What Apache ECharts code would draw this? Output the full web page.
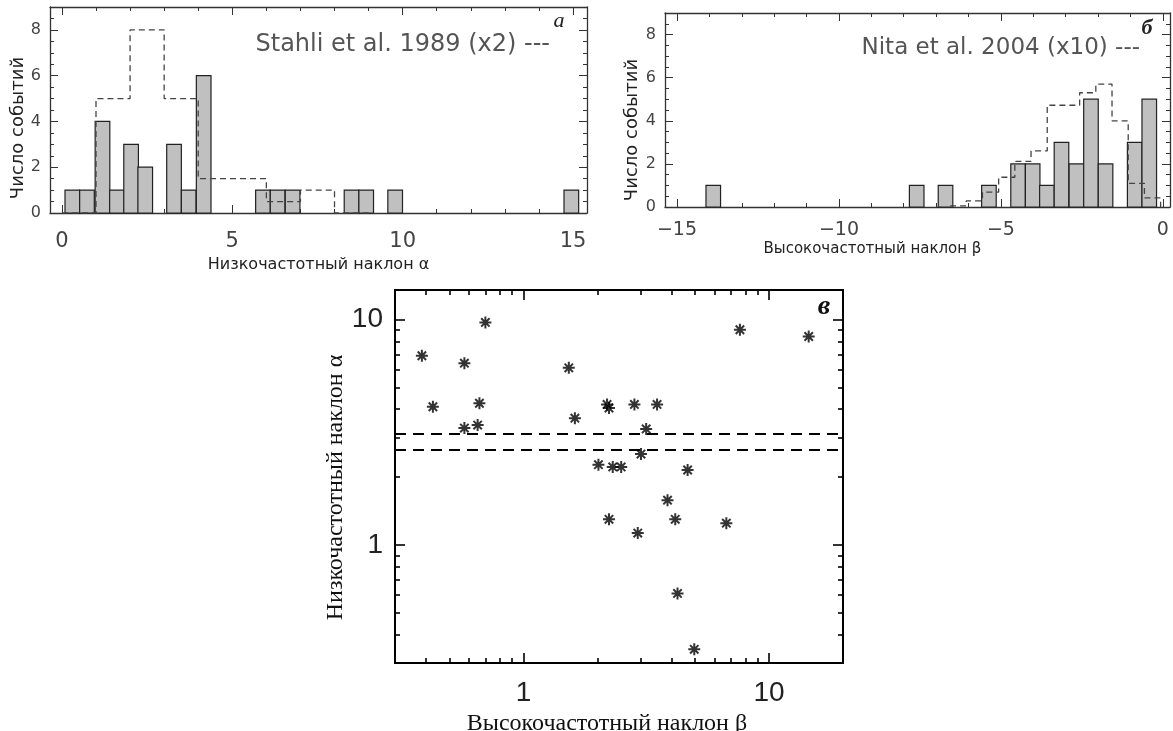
<!DOCTYPE html>
<html><head><meta charset="utf-8">
<script src="https://cdn.jsdelivr.net/npm/echarts@6/dist/echarts.min.js"></script>
<style>html,body{margin:0;padding:0;background:#fff}#c{width:1173px;height:731px}</style>
</head><body><div id="c"></div>
<script>
// ---------- Panel а : low-frequency slope histogram ----------
const alphaBinCenters = [0.305, 0.735, 1.19, 1.615, 2.03, 2.445, 3.29, 3.72, 4.16, 5.9, 6.33, 6.77, 8.5, 8.93, 9.78, 14.95];
const alphaBinCounts  = [1, 1, 4, 1, 3, 2, 3, 1, 6, 1, 1, 1, 1, 1, 1, 1];
const alphaBinWidth = 0.43;
const stahliEdges  = [0, 1, 2, 3, 4, 5, 6, 7, 8, 9];
const stahliCounts = [0, 5, 8, 5, 1.5, 1.5, 0.5, 1, 0];
const alphaTicks = [0, 5, 10, 15];

// ---------- Panel б : high-frequency slope histogram ----------
const betaBinCenters = [-13.88, -7.6, -6.71, -5.37, -4.47, -4.02, -3.58, -3.13, -2.67, -2.22, -1.77, -0.87, -0.42];
const betaBinCounts  = [1, 1, 1, 1, 2, 2, 1, 3, 2, 5, 2, 3, 5];
const betaBinWidth = 0.45;
const nitaEdges  = [-6.57, -6.07, -5.57, -5.07, -4.57, -4.07, -3.57, -3.07, -2.57, -2.07, -1.57, -1.07, -0.57, -0.07];
const nitaCounts = [0.05, 0.28, 0.69, 1.38, 2.12, 2.6, 4.72, 4.72, 5.3, 5.7, 4.0, 1.1, 0.42];
const betaTicks = [-15, -10, -5, 0];

// ---------- Panel в : scatter (log-log) ----------
const scatterBeta  = [0.386, 0.428, 0.575, 0.575, 0.662, 0.651, 0.70, 1.53, 1.62, 2.19, 2.23, 2.02, 2.31, 2.50, 2.23, 2.83, 3.50, 3.16, 3.01, 4.66, 3.86, 4.15, 6.7, 7.61, 14.5, 2.92, 4.24, 4.96];
const scatterAlpha = [6.9, 4.1, 6.4, 3.3, 4.25, 3.4, 9.7, 6.1, 3.65, 4.2, 4.05, 2.27, 2.22, 2.22, 1.3, 4.2, 4.2, 3.27, 2.53, 2.15, 1.58, 1.3, 1.25, 9.0, 8.4, 1.13, 0.61, 0.345];
const alphaLimits = [3.1, 2.65];
const logMajorTicks = [1, 10];
const logMinorTicksX = [0.4, 0.5, 0.6, 0.7, 0.8, 0.9, 2, 3, 4, 5, 6, 7, 8, 9];
const logMinorTicksY = [0.4, 0.5, 0.6, 0.7, 0.8, 0.9, 2, 3, 4, 5, 6, 7, 8, 9];

const SANS = '"DejaVu Sans", "Liberation Sans", sans-serif';
const SANS2 = '"Liberation Sans", Arial, sans-serif';
const SERIF = '"Liberation Serif", "Times New Roman", serif';
const histColor = '#333';
const labelColor = '#444';

function histRender(params, api) {
  const c = api.value(0), n = api.value(1), w = api.value(2);
  const p0 = api.coord([c - w / 2, n]);
  const p1 = api.coord([c + w / 2, 0]);
  return {
    type: 'rect',
    shape: { x: p0[0], y: p0[1], width: p1[0] - p0[0], height: p1[1] - p0[1] },
    style: { fill: '#c0c0c0', stroke: '#222', lineWidth: 1.2 }
  };
}
function stepPoints(edges, counts) {
  const pts = counts.map((c, i) => [edges[i], c]);
  pts.push([edges[edges.length - 1], 0]);
  return pts;
}
const minusFmt = v => (v < 0 ? '\u2212' + Math.abs(v) : String(v));

function histX(grid, min, max, ticks, pos, showLabel, fontSize, margin, name, nameSize, nameGap, namePad) {
  return {
    gridIndex: grid, type: 'value', min: min, max: max, splitNumber: 3, position: pos,
    axisLine: { show: true, onZero: false, lineStyle: { color: histColor, width: 1.3 } },
    axisTick: { show: true, inside: true, length: 8, lineStyle: { color: histColor, width: 1 } },
    minorTick: { show: true, splitNumber: 5, length: 4, lineStyle: { color: histColor, width: 1 } },
    splitLine: { show: false },
    axisLabel: {
      show: showLabel, fontSize: fontSize, color: labelColor, fontFamily: SANS, margin: margin,
      formatter: v => (ticks.indexOf(Math.round(v * 1000) / 1000) >= 0 ? minusFmt(v) : '')
    },
    name: showLabel ? name : '', nameLocation: 'middle', nameGap: nameGap,
    nameTextStyle: { fontSize: nameSize, color: '#222', fontFamily: SANS, padding: namePad }
  };
}
function histY(grid, pos, showLabel, nameGap, namePad) {
  return {
    gridIndex: grid, type: 'value', min: 0, max: 9, interval: 2, position: pos,
    axisLine: { show: true, onZero: false, lineStyle: { color: histColor, width: 1.3 } },
    axisTick: { show: true, inside: true, length: 8, lineStyle: { color: histColor, width: 1 } },
    minorTick: { show: true, splitNumber: 4, length: 4, lineStyle: { color: histColor, width: 1 } },
    splitLine: { show: false },
    axisLabel: {
      show: showLabel, fontSize: 16, color: labelColor, fontFamily: SANS, margin: 9,
      formatter: v => (v % 2 === 0 ? String(v) : '')
    },
    name: showLabel ? 'Число событий' : '', nameLocation: 'middle', nameGap: nameGap, nameRotate: 90,
    nameTextStyle: { fontSize: 18, color: '#222', fontFamily: SANS, padding: namePad }
  };
}
function logAxis(grid, pos, major, isX, opts) {
  const ticks = major ? logMajorTicks : (isX ? logMinorTicksX : logMinorTicksY);
  const o = {
    gridIndex: grid, type: 'log', logBase: 10, position: pos,
    min: 0.3, max: isX ? 20 : 13.5,
    axisLine: { show: true, onZero: false, lineStyle: { color: '#000', width: 2 } },
    axisTick: { show: true, inside: true, length: major ? 10 : 5, customValues: ticks, lineStyle: { color: '#000', width: 1.6 } },
    minorTick: { show: false },
    splitLine: { show: false },
    axisLabel: { show: false }
  };
  if (opts && opts.labels) {
    o.axisLabel = {
      show: true, customValues: logMajorTicks, fontSize: 28, color: '#222', fontFamily: SANS2,
      margin: isX ? 16 : 12,
      formatter: v => (Math.abs(Math.log10(v) - Math.round(Math.log10(v))) < 1e-6 ? String(Math.round(v)) : '')
    };
    o.name = opts.name; o.nameLocation = 'middle'; o.nameGap = opts.nameGap;
    if (!isX) o.nameRotate = 90;
    o.nameTextStyle = { fontSize: 24, color: '#111', fontFamily: SERIF, padding: opts.namePad };
  }
  return o;
}

const chart = echarts.init(document.getElementById('c'), null, { renderer: 'canvas' });
const option = {
  backgroundColor: '#fff',
  animation: false,
  grid: [
    { left: 50, top: 7, width: 537, height: 206, containLabel: false, outerBoundsMode: 'none' },
    { left: 665, top: 13, width: 505, height: 194, containLabel: false, outerBoundsMode: 'none' },
    { left: 395, top: 290, width: 448, height: 373, containLabel: false, outerBoundsMode: 'none' }
  ],
  xAxis: [
    histX(0, -0.35, 15.41, alphaTicks, 'bottom', true, 21, 18, 'Низкочастотный наклон α', 16, 44, [0, 0, 0, 0]),
    histX(0, -0.35, 15.41, alphaTicks, 'top', false, 21, 18, '', 16, 0, 0),
    histX(1, -15.37, 0.22, betaTicks, 'bottom', true, 19, 14, 'Высокочастотный наклон β', 15, 35, [0, 90, 0, 0]),
    histX(1, -15.37, 0.22, betaTicks, 'top', false, 19, 14, '', 15, 0, 0),
    logAxis(2, 'bottom', true, true, { labels: true, name: 'Высокочастотный наклон β', nameGap: 43, namePad: [0, 24, 0, 0] }),
    logAxis(2, 'bottom', false, true),
    logAxis(2, 'top', true, true),
    logAxis(2, 'top', false, true)
  ],
  yAxis: [
    histY(0, 'left', true, 22, [0, 36, 0, 0]),
    histY(0, 'right', false, 0, 0),
    histY(1, 'left', true, 24, [0, 40, 0, 0]),
    histY(1, 'right', false, 0, 0),
    logAxis(2, 'left', true, false, { labels: true, name: 'Низкочастотный наклон α', nameGap: 40, namePad: [0, 22, 0, 0] }),
    logAxis(2, 'left', false, false),
    logAxis(2, 'right', true, false),
    logAxis(2, 'right', false, false)
  ],
  series: [
    {
      type: 'custom', xAxisIndex: 0, yAxisIndex: 0, renderItem: histRender,
      encode: { x: 0, y: 1 },
      data: alphaBinCenters.map((c, i) => [c, alphaBinCounts[i], alphaBinWidth]), z: 2
    },
    {
      type: 'line', xAxisIndex: 0, yAxisIndex: 0, step: 'end', showSymbol: false, symbol: 'none',
      lineStyle: { type: [6, 4], color: '#444', width: 1.3 },
      data: stepPoints(stahliEdges, stahliCounts), z: 3
    },
    {
      type: 'custom', xAxisIndex: 2, yAxisIndex: 2, renderItem: histRender,
      encode: { x: 0, y: 1 },
      data: betaBinCenters.map((c, i) => [c, betaBinCounts[i], betaBinWidth]), z: 2
    },
    {
      type: 'line', xAxisIndex: 2, yAxisIndex: 2, step: 'end', showSymbol: false, symbol: 'none',
      lineStyle: { type: [6, 4], color: '#444', width: 1.3 },
      data: stepPoints(nitaEdges, nitaCounts), z: 3
    },
    {
      type: 'scatter', xAxisIndex: 4, yAxisIndex: 4,
      symbol: 'path://M0,10L20,10M10,0L10,20M3,3L17,17M17,3L3,17',
      symbolSize: 12,
      itemStyle: { color: 'rgba(0,0,0,0)', borderColor: '#000', borderWidth: 2 },
      data: scatterBeta.map((b, i) => [b, scatterAlpha[i]]),
      markLine: {
        silent: true, symbol: ['none', 'none'], label: { show: false },
        lineStyle: { type: [11, 7], color: '#000', width: 2 },
        data: alphaLimits.map(v => ({ yAxis: v }))
      }
    }
  ],
  graphic: [
    { type: 'text', x: 550, y: 45, style: { text: 'Stahli et al. 1989 (x2) ---', textAlign: 'right', textVerticalAlign: 'middle', font: '24px ' + SANS, fill: '#555' } },
    { type: 'text', x: 1140, y: 48, style: { text: 'Nita et al. 2004 (x10) ---', textAlign: 'right', textVerticalAlign: 'middle', font: '23px ' + SANS, fill: '#555' } },
    { type: 'text', x: 559, y: 21, style: { text: 'а', textAlign: 'center', textVerticalAlign: 'middle', font: 'italic 22px ' + SERIF, fill: '#222' } },
    { type: 'text', x: 1147, y: 28, style: { text: 'б', textAlign: 'center', textVerticalAlign: 'middle', font: 'italic bold 22px ' + SERIF, fill: '#222' } },
    { type: 'text', x: 824, y: 307, style: { text: 'в', textAlign: 'center', textVerticalAlign: 'middle', font: 'italic bold 28px ' + SERIF, fill: '#111' } }
  ]
};
chart.setOption(option);
</script>
</body></html>
